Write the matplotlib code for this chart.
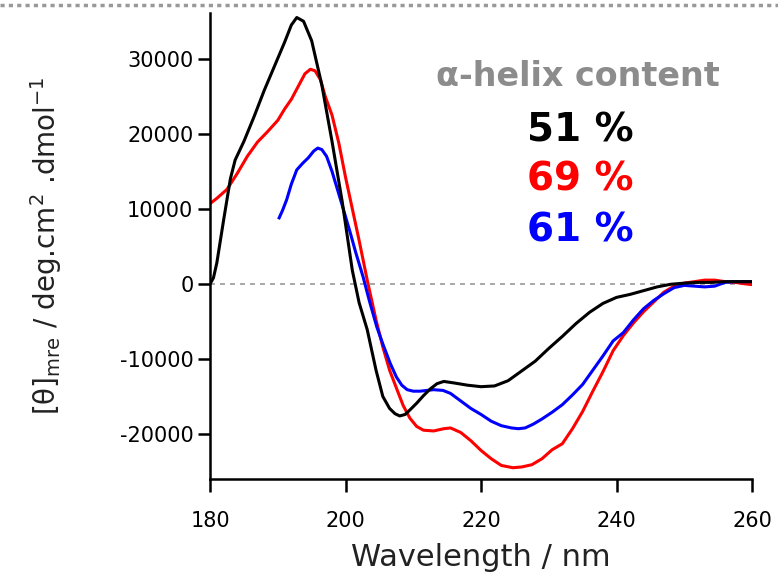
import numpy as np
import matplotlib as mpl
mpl.use('Agg')
import matplotlib.pyplot as plt
from matplotlib.lines import Line2D

plt.rcParams['font.family'] = ['DejaVu Sans']
plt.rcParams['mathtext.default'] = 'regular'
plt.rcParams['axes.unicode_minus'] = False

# CD spectra, wavelength (nm) vs mean residue ellipticity
black_x = [180, 180.5, 181, 182, 183, 183.7, 185, 186.5, 188, 189.5, 191, 192, 192.8, 193.8,
           195, 196.5, 198, 199.5, 201, 202, 203.2, 204.5, 205.5, 206.5, 207.3, 208, 208.8,
           209.5, 210.5, 211.5, 212.5, 213.5, 214.5, 216, 218, 220, 222, 224, 226, 228, 230,
           232, 234, 236, 238, 240, 242, 244, 246, 248, 250, 252, 254, 256, 258, 260]
black_y = [0, 800, 2800, 8500, 14000, 16500, 19000, 22300, 25800, 29000, 32200, 34500, 35500, 35000,
           32400, 26500, 19000, 11000, 1800, -2500, -6100, -11500, -15000, -16600, -17300, -17600, -17400,
           -16800, -15900, -14900, -14000, -13300, -13000, -13200, -13500, -13700, -13600, -12900, -11600,
           -10300, -8600, -7000, -5300, -3800, -2600, -1800, -1400, -900, -400, -50, 100, 200, 200, 300,
           300, 300]

red_x = [180, 181, 182.5, 184, 185.5, 187, 188.5, 190, 191, 192, 193, 194, 194.8, 195.5, 196.3,
         197, 198, 199, 200, 201, 202, 203.2, 204.5, 205.5, 206.5, 207.6, 208.5, 209.5, 210.5,
         211.5, 213, 214.5, 215.5, 217, 218.5, 220, 221.5, 223, 224.7, 226, 227.5, 229, 230.5,
         232, 233.5, 235, 236.5, 238, 239.5, 241, 242.5, 244, 245.5, 247, 248.5, 250, 251.5,
         253, 254.5, 256, 257.5, 259, 260]
red_y = [10700, 11400, 12600, 14700, 17000, 18900, 20300, 21800, 23300, 24600, 26300, 28000, 28600,
         28400, 27200, 25000, 22500, 18800, 14200, 10000, 5800, 500, -4800, -8400, -11500, -14100,
         -16200, -17900, -19000, -19500, -19600, -19300, -19200, -19800, -20900, -22200, -23300,
         -24200, -24500, -24400, -24100, -23300, -22100, -21300, -19300, -17000, -14300, -11700,
         -8900, -6900, -5200, -3700, -2400, -1100, -300, 100, 300, 500, 500, 300, 200, 0, -100]

blue_x = [190.2, 190.7, 191.3, 192, 192.8, 193.7, 194.5, 195.3, 195.9, 196.5, 197.2, 198, 198.7,
          199.5, 200.7, 201.5, 202.6, 203.5, 204.6, 205.5, 206.6, 207.5, 208.3, 209.1, 210, 211,
          212, 213, 214.4, 215.5, 217, 218.5, 220, 221.5, 223, 224.5, 225.5, 226.5, 227.7, 229,
          230.5, 232, 233.5, 235, 236.5, 238, 239.5, 241, 242.5, 244, 245.5, 247, 248.5, 250,
          251.5, 253, 254.5, 256, 257.5, 259, 260]
blue_y = [8800, 9800, 11200, 13300, 15200, 16100, 16800, 17700, 18100, 17900, 17000, 15000, 12900,
          10500, 6800, 4200, 900, -2200, -5700, -8000, -10600, -12400, -13500, -14100, -14300, -14300,
          -14200, -14100, -14200, -14600, -15600, -16600, -17400, -18300, -18900, -19200, -19300,
          -19200, -18700, -18000, -17100, -16100, -14800, -13400, -11500, -9600, -7600, -6500, -4800,
          -3300, -2200, -1300, -500, -200, -300, -400, -300, 200, 300, 300, 300]

helix_labels = ['51 %', '69 %', '61 %']
series_colors = ['black', 'red', 'blue']

fig = plt.figure(figsize=(7.78, 5.81), dpi=100)
ax = fig.add_axes([0.27, 0.1756, 0.6966, 0.802])

ax.axhline(0, color='#999999', linestyle=(0, (3, 3)), linewidth=1.2, zorder=1)
ax.plot(black_x, black_y, color='black', linewidth=2.2, zorder=3)
ax.plot(red_x, red_y, color='red', linewidth=2.2, zorder=2)
ax.plot(blue_x, blue_y, color='blue', linewidth=2.2, zorder=2)

ax.set_xlim(180, 260)
ax.set_ylim(-26000, 36100)
ax.set_xticks([180, 200, 220, 240, 260])
ax.set_yticks([-20000, -10000, 0, 10000, 20000, 30000])
ax.spines['top'].set_visible(False)
ax.spines['right'].set_visible(False)
for s in ['left', 'bottom']:
    ax.spines[s].set_linewidth(1.8)
ax.tick_params(width=1.8, length=9, labelsize=15, colors='black')
ax.tick_params(axis='x', pad=14)
ax.tick_params(axis='y', pad=3)

ax.set_xlabel('Wavelength / nm', fontsize=22, labelpad=9, color='#222222')
ax.set_ylabel(r'$[\theta]_{mre}$ / deg.cm$^{2}$ .dmol$^{-1}$', fontsize=20, labelpad=40,
              color='#222222')

fig.text(578 / 778, 1 - 77 / 581, '\u03b1-helix content', fontsize=24, fontweight='bold',
         color='#8c8c8c', ha='center', va='center')
for i, (lab, c) in enumerate(zip(helix_labels, series_colors)):
    fig.text(580 / 778, 1 - (130 + 50 * i) / 581, lab, fontsize=28, fontweight='bold',
             color=c, ha='center', va='center')

# dotted border line at the top
fig.add_artist(Line2D([0, 1], [1 - 5 / 581, 1 - 5 / 581], transform=fig.transFigure,
                      color='#999999', linestyle=(0, (1.2, 1.2)), linewidth=2.5))

fig.savefig('out.png', dpi=100)
